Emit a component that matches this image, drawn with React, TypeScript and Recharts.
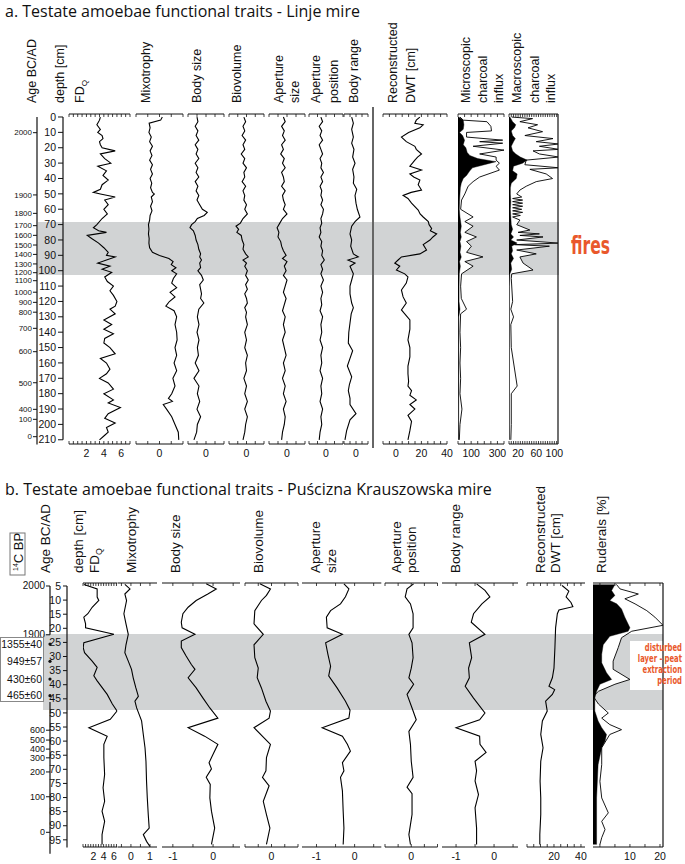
import React from 'react';
import { ComposedChart, Line, Area, XAxis, YAxis, ReferenceArea, ReferenceLine } from 'recharts';

type Pt = [number, number];
type Panel = { d0: number; d1: number; top: number; bottom: number };

const FONT = '"Liberation Sans", Arial, Helvetica, sans-serif';
const TITLE_FONT = '"Open Sans", "Noto Sans", sans-serif';
const NARROW = '"Liberation Sans Narrow", "DejaVu Sans Condensed", "Liberation Sans", sans-serif';
const ORANGE = '#e9582b';
const BAND = '#d1d3d4';

// ================= Panel a: Linje mire =================
const linjeTitle = 'a. Testate amoebae functional traits - Linje mire';
const linjeDepthTicks = [0, 10, 20, 30, 40, 50, 60, 70, 80, 90, 100, 110, 120, 130, 140, 150, 160, 170, 180, 190, 200, 210];
const linjeAgeLabels = ['2000', '1900', '1800', '1700', '1600', '1500', '1400', '1300', '1200', '1100', '1000', '900', '800', '700', '600', '500', '400', '100', '0'];
const linjeAgeDepths = [10.2, 50.7, 62.7, 70.7, 77, 83.3, 89.4, 95.6, 101.3, 106.5, 114, 120.6, 127, 137.5, 152.7, 172.9, 190.2, 196.7, 208];
const linjeBand: [number, number] = [68.3, 102.7];
const linjeNote = 'fires';

const linjeFdq: Pt[] = [[0,3.6],[2,3.5],[5,3.2],[8,3.6],[10,3.3],[12,3.8],[14,3.9],[16,3.5],[18,3.6],[20,3.8],[22,5.3],[24,3.6],[27,4.1],[30,4.8],[32,3.3],[35,4.3],[38,3.9],[41,4.5],[44,3.8],[47,3.6],[49,2.8],[50,3.6],[52,5.3],[54,4.1],[57,4.5],[60,4.0],[63,4.4],[66,3.8],[70,3.2],[72,2.8],[74,3.4],[75,4.3],[76,3.2],[77,2.1],[79,2.6],[82,3.4],[85,4.0],[88,4.5],[90,4.3],[91,5.3],[93,4.3],[95,3.3],[97,4.7],[99,3.8],[101,4.9],[104,4.1],[107,4.4],[110,5.1],[113,4.7],[116,5.1],[120,5.5],[123,5.3],[125,4.7],[128,5.3],[132,4.0],[135,4.9],[138,4.0],[141,5.1],[144,4.1],[147,4.0],[150,4.7],[154,5.3],[157,3.6],[160,4.3],[164,4.7],[167,4.3],[170,3.5],[173,4.5],[177,5.1],[180,4.0],[184,5.1],[186,4.5],[189,5.9],[193,4.5],[196,4.1],[199,5.3],[202,4.3],[205,4.5],[207,4.1],[210,3.5]];
const linjeMixo: Pt[] = [[0,0.12],[2,0.05],[4,-0.44],[7,-0.4],[10,-0.45],[13,-0.35],[16,-0.42],[19,-0.3],[22,-0.4],[25,-0.32],[28,-0.42],[31,-0.3],[34,-0.38],[37,-0.3],[40,-0.4],[43,-0.33],[46,-0.38],[49,-0.3],[50,-0.22],[52,-0.35],[55,-0.3],[58,-0.38],[61,-0.32],[64,-0.4],[67,-0.42],[70,-0.47],[73,-0.45],[76,-0.47],[79,-0.44],[82,-0.45],[85,-0.42],[88,-0.3],[90,0.0],[92,0.4],[94,0.58],[96,0.5],[98,0.7],[100,0.52],[102,0.73],[105,0.59],[108,0.52],[111,0.73],[114,0.45],[117,0.66],[120,0.42],[123,0.27],[126,0.62],[130,0.73],[135,0.66],[140,0.73],[145,0.75],[150,0.66],[155,0.73],[160,0.62],[165,0.73],[170,0.57],[175,0.66],[180,0.52],[183,0.38],[185,0.55],[187,0.16],[190,0.3],[195,0.52],[200,0.66],[205,0.8],[210,0.82]];
const linjeBody: Pt[] = [[0,-0.5],[3,-0.45],[6,-0.6],[9,-0.45],[12,-0.55],[15,-0.4],[18,-0.6],[21,-0.45],[24,-0.55],[27,-0.4],[30,-0.6],[33,-0.45],[36,-0.55],[39,-0.4],[42,-0.6],[45,-0.45],[48,-0.55],[51,-0.4],[54,-0.5],[57,-0.35],[60,-0.2],[62,0.07],[64,-0.1],[66,-0.48],[68,-0.6],[70,-0.8],[72,-0.89],[74,-0.7],[77,-0.6],[80,-0.55],[83,-0.45],[86,-0.4],[89,-0.3],[91,-0.35],[93,-0.25],[95,-0.35],[98,-0.3],[100,-0.45],[103,-0.25],[106,-0.15],[109,-0.35],[112,-0.3],[115,-0.25],[118,-0.3],[121,-0.12],[125,-0.4],[130,-0.48],[135,-0.39],[140,-0.5],[145,-0.39],[150,-0.48],[155,-0.42],[160,-0.6],[165,-0.39],[170,-0.67],[175,-0.39],[180,-0.48],[185,-0.35],[190,-0.5],[195,-0.3],[200,-0.48],[205,-0.52],[210,-0.67]];
const linjeBiov: Pt[] = [[0,-0.15],[3,-0.05],[6,-0.2],[9,-0.1],[12,-0.25],[15,-0.05],[18,-0.2],[21,-0.1],[24,-0.3],[27,-0.1],[30,-0.2],[33,0],[36,-0.15],[39,-0.1],[42,-0.25],[45,-0.05],[48,-0.2],[51,-0.1],[54,-0.15],[57,0.0],[60,-0.1],[63,0.05],[66,-0.2],[69,-0.35],[71,-0.6],[73,-0.45],[75,-0.55],[77,-0.3],[80,-0.25],[83,-0.15],[86,-0.2],[89,-0.05],[91,0.1],[93,-0.2],[95,0.0],[97,-0.1],[100,0.05],[103,-0.05],[106,0.1],[109,-0.05],[112,0.05],[115,-0.1],[118,0.0],[121,0.05],[124,-0.1],[127,0.0],[130,-0.05],[135,0.05],[140,-0.1],[145,0],[150,-0.1],[155,0.05],[160,-0.05],[165,0],[170,-0.15],[175,0],[180,-0.1],[185,0.05],[190,-0.1],[195,0.05],[200,-0.05],[205,-0.1],[210,-0.2]];
const linjeApSize: Pt[] = [[0,-0.2],[3,-0.1],[6,-0.3],[9,-0.15],[12,-0.25],[15,-0.1],[18,-0.3],[21,-0.2],[24,-0.35],[27,-0.15],[30,-0.25],[33,-0.1],[36,-0.3],[39,-0.2],[42,-0.15],[45,-0.3],[48,-0.1],[51,-0.25],[54,-0.2],[57,-0.1],[60,-0.2],[63,0.0],[66,-0.25],[69,-0.4],[72,-0.55],[75,-0.45],[78,-0.5],[81,-0.35],[84,-0.3],[87,-0.2],[90,-0.05],[92,-0.25],[94,0.0],[97,-0.15],[100,-0.05],[103,-0.2],[106,0.0],[110,-0.1],[114,-0.2],[118,-0.05],[122,-0.15],[126,-0.25],[130,-0.1],[135,-0.2],[140,-0.1],[145,-0.25],[150,-0.15],[155,-0.05],[160,-0.2],[165,-0.1],[170,-0.25],[175,-0.1],[180,-0.2],[185,-0.05],[190,-0.2],[195,-0.1],[200,-0.15],[205,-0.25],[210,-0.3]];
const linjeApPos: Pt[] = [[0,-0.3],[3,-0.2],[6,-0.4],[9,-0.25],[12,-0.35],[15,-0.2],[18,-0.4],[21,-0.3],[24,-0.2],[27,-0.35],[30,-0.25],[33,-0.3],[36,-0.15],[39,-0.3],[42,-0.2],[45,-0.35],[48,-0.25],[51,-0.3],[54,-0.2],[57,-0.3],[60,-0.15],[63,-0.2],[66,-0.3],[69,-0.25],[72,-0.35],[75,-0.3],[78,-0.4],[81,-0.25],[84,-0.3],[87,-0.2],[90,-0.25],[93,-0.1],[96,-0.3],[99,-0.2],[102,-0.3],[106,-0.15],[110,-0.3],[114,-0.2],[118,-0.3],[122,-0.25],[126,-0.35],[130,-0.2],[135,-0.3],[140,-0.25],[145,-0.35],[150,-0.2],[155,-0.3],[160,-0.25],[165,-0.35],[170,-0.2],[175,-0.3],[180,-0.25],[185,-0.35],[190,-0.2],[195,-0.3],[200,-0.25],[205,-0.35],[210,-0.4]];
const linjeRange: Pt[] = [[0,-0.36],[4,-0.22],[8,-0.36],[13,-0.22],[17,-0.36],[21,-0.17],[26,-0.28],[30,-0.08],[34,-0.28],[39,-0.17],[43,-0.22],[47,0.06],[51,-0.08],[56,0],[60,0.11],[65,0.33],[68,-0.08],[71,-0.36],[76,-0.5],[80,-0.36],[84,-0.44],[89,-0.22],[91,0.19],[93,-0.67],[95,-0.08],[97,-0.5],[102,-0.22],[106,-0.36],[110,-0.5],[115,-0.5],[121,-0.36],[124,-0.22],[128,-0.4],[134,-0.5],[140,-0.6],[147,-0.64],[152,-0.28],[157,-0.5],[162,-0.72],[169,-0.36],[174,-0.55],[178,-0.64],[183,-0.5],[187,-0.5],[193,0.0],[197,-0.5],[204,-0.78],[210,-0.92]];
const linjeDwt: Pt[] = [[0,18.8],[2,16],[4,14.9],[5,21.4],[7,18.8],[10,10],[13,4.4],[16,8.2],[19,14.9],[21,16],[24,20.1],[26,17],[28,14.9],[30,13],[32,11],[34.5,20.1],[37,11],[39,14],[41,18.8],[44,17.5],[47.5,20.1],[49,12],[51,5.7],[53,9.5],[56,12.3],[60.5,17.5],[63,19],[65,21.4],[68,25.4],[70,26],[72.5,28],[74,27],[76,31.9],[78,29],[80,26.7],[83,21.4],[86.5,24],[89,18.8],[91,4.4],[93,1.8],[95,-0.8],[97,3.1],[99.5,0.5],[102,7],[104,9.5],[108,8.2],[112.5,4.4],[117,5.7],[121,8.2],[125.5,4.4],[128,7],[132,11],[138,11],[145,9.5],[150,11],[156,11],[162,9.5],[167,9.5],[172,10],[175,9.5],[178,12.3],[181,11],[184,16],[187,11],[190,14.9],[194,9.5],[198,12.3],[204,11],[210,9.5]];
const linjeMicroFill: Pt[] = [[0,5],[2,40],[5,45],[8,40],[10,12],[12,35],[15,50],[18,40],[20,60],[23,70],[25,90],[27,150],[29,290],[31,200],[33,110],[35,90],[38,65],[40,40],[43,25],[46,18],[50,15],[55,12],[60,10],[65,15],[68,20],[71,25],[75,18],[78,25],[81,15],[84,22],[88,15],[91,25],[94,12],[97,18],[102,10],[110,8],[120,8],[125,15],[130,6],[150,6],[175,6],[200,5],[210,5]];
const linjeMicroLine: Pt[] = [[0,15],[2,40],[3,220],[6,250],[9,255],[10,65],[13,65],[15,340],[16,165],[17,340],[19,115],[21.5,350],[24,165],[26,290],[28,290],[30,315],[32,290],[34.5,315],[39,165],[42,115],[45,77],[50,52],[54,27],[60,20],[65,115],[68,52],[71,115],[75,52],[78,140],[81,65],[84,102],[88,65],[91,190],[94,52],[97,115],[102,27],[110,20],[118,25],[125,65],[128,20],[140,15],[150,20],[160,15],[170,20],[180,15],[190,30],[200,15],[210,10]];
const linjeMacroFill: Pt[] = [[0,2],[3,8],[5,15],[7,12],[9,5],[12,8],[14,14],[16,10],[19,5],[22,8],[24,15],[26,25],[28,40],[30,30],[32,10],[35,8],[37,18],[40,16],[43,5],[46,3],[50,3],[55,4],[60,3],[65,4],[70,5],[73,8],[76,4],[78,10],[80,4],[82,18],[84,6],[87,8],[89,5],[92,10],[95,4],[99,6],[102,2],[110,1],[150,1],[210,1]];
const linjeMacroLine: Pt[] = [[0,6],[1,52],[3,24],[5,63],[7,42],[9.5,74],[12,35],[14,97],[16,60],[17.5,110],[19,67],[21,110],[22,53],[24,67],[26,110],[28,38],[31,35],[33,110],[34,46],[37,82],[40,96],[42,60],[45,38],[47.5,24],[50,17],[52,28],[53,8],[54,30],[55,8],[56,30],[57,8],[58,30],[59,8],[60,28],[61,8],[62,30],[63,8],[64,25],[65,8],[67,24],[70,17],[73.5,46],[75,20],[76,67],[77,24],[78,75],[80,17],[82,110],[83,12],[84,89],[86.5,17],[89,60],[91,24],[95,31],[99.5,53],[102,6],[105,5],[120,8],[125,4],[130,10],[135,4],[150,5],[175,18],[180,5],[200,5],[210,4]];

// ================= Panel b: Puścizna Krauszowska mire =================
const pusTitle = 'b. Testate amoebae functional traits - Puścizna Krauszowska mire';
const pusDepthTicks = [5, 10, 15, 20, 25, 30, 35, 40, 45, 50, 55, 60, 65, 70, 75, 80, 85, 90, 95];
const pusAgeTopLabels = ['2000', '1900'];
const pusAgeTopDepths = [5, 22.3];
const pusAgeLowLabels = ['600', '500', '400', '300', '200', '100', '0'];
const pusAgeLowDepths = [56.4, 59.9, 63.1, 66.2, 71.2, 80, 92.6];
const pusDateLabels = ['1355±40', '949±57', '430±60', '465±60'];
const pusDateDepths = [25.7, 31.8, 38.1, 44];
const pusBand: [number, number] = [22.2, 49.1];
const pusNote = ['disturbed', 'layer - peat', 'extraction', 'period'];

const pusFdq: Pt[] = [[4.6,0.16],[6.2,2.75],[9.1,2.75],[10.3,3.07],[12.7,1.78],[15,0.94],[16.2,0.16],[18.6,0.5],[20,0.5],[22.3,6.0],[25.3,0.16],[27,0.04],[28.8,0.3],[31.8,1.78],[34,2.75],[37,2.1],[38.8,2.75],[43.6,4.7],[47,5.7],[49.5,6.6],[52.4,5.3],[55.4,1.14],[58.4,4.7],[61.3,4.05],[66,4.05],[72,4.2],[76.7,3.9],[81.5,4.2],[85,3.7],[88.6,4.2],[93.3,3.7],[96.8,3.7]];
const pusMixo: Pt[] = [[4.6,-0.32],[6.2,-0.05],[8,-0.32],[10.3,-0.23],[15,-0.37],[18.6,-0.26],[22.3,-0.14],[26,-0.26],[28.8,-0.32],[31.8,-0.14],[34.7,0.03],[37.7,0.12],[41.3,0.26],[44.3,0.39],[46,0.21],[48.4,0.3],[53,0.56],[57.8,0.65],[62.5,0.74],[67.3,0.79],[74.4,0.82],[80.3,0.86],[86.2,0.91],[91,0.96],[93.3,0.65],[95.7,0.82],[97.5,1.0]];
const pusBody: Pt[] = [[4.4,-0.17],[6.2,0.08],[8,-0.13],[10.3,-0.42],[12.7,-0.62],[15,-0.75],[18,-0.79],[20,-0.77],[22.3,-0.45],[24.7,-0.79],[27,-0.79],[30,-0.67],[33,-0.54],[34.7,-0.45],[37.7,-0.62],[41.3,-0.42],[44.9,-0.25],[48.4,-0.08],[52,0.12],[55.4,-0.62],[58.4,-0.21],[61.3,0.12],[64.8,0.0],[67.8,-0.1],[70,-0.04],[73,-0.17],[75.5,-0.07],[80.3,-0.08],[85,-0.04],[91,0.04],[96.8,-0.04]];
const pusBiov: Pt[] = [[4.4,-0.44],[6.2,-0.04],[8.5,-0.19],[10.3,-0.38],[13.9,-0.63],[18.6,-0.66],[22.3,-0.31],[26,-0.66],[30.6,-0.63],[34.3,-0.5],[37.7,-0.54],[41.3,-0.38],[46,-0.21],[49.5,-0.04],[52,-0.09],[55.4,-0.66],[61.3,-0.04],[66,-0.19],[70.7,-0.21],[73,-0.34],[76,-0.09],[81.5,-0.31],[86.2,-0.19],[91,-0.06],[96.8,-0.19]];
const pusApSize: Pt[] = [[4.4,-0.28],[6.2,-0.15],[9,-0.24],[11.5,-0.37],[13.9,-0.63],[16.2,-0.74],[20,-0.72],[22.3,-0.32],[25.3,-0.76],[29.4,-0.7],[33.6,-0.63],[37,-0.68],[41.3,-0.46],[46,-0.24],[49.2,-0.12],[52,-0.15],[55.4,-0.85],[58.4,-0.32],[61.3,-0.19],[63.7,-0.11],[67.8,-0.32],[70.7,-0.28],[73,-0.37],[77.8,-0.32],[85,-0.3],[91,-0.28],[96.8,-0.3]];
const pusApPos: Pt[] = [[4.4,0.09],[6.2,-0.16],[9,-0.23],[11.5,-0.03],[15,0.07],[20,0.07],[22.3,-0.09],[25.3,0.03],[30.6,0.07],[34.3,0.0],[37.7,-0.09],[40,0.09],[43.6,-0.16],[48.4,0.03],[52.6,0.19],[56.7,-0.09],[61.3,-0.03],[67.3,0.0],[73,0.07],[76.5,-0.16],[78.8,0.03],[86.2,0.03],[93.3,-0.09],[96.8,-0.03]];
const pusRange: Pt[] = [[4.4,-0.46],[6.7,-0.24],[9,-0.11],[11.5,-0.32],[15,-0.54],[18,-0.6],[22.3,-0.24],[25.3,-0.65],[30.6,-0.59],[34.3,-0.67],[37.7,-0.65],[40.7,-0.76],[44.9,-0.54],[50.2,-0.24],[52.6,-0.38],[55.4,-1.0],[58.4,-0.38],[61.3,-0.37],[64.2,-0.21],[67.3,-0.5],[70.7,-0.46],[74.3,-0.5],[79.1,-0.41],[83.8,-0.5],[91,-0.46],[96.8,-0.46]];
const pusDwt: Pt[] = [[5,26],[7,31],[9,29],[11,32.6],[12.5,34],[13.7,23.7],[15,22.5],[20,21.2],[27,20.7],[34.3,20],[37.7,18.8],[40.7,16.3],[41.9,20.5],[43.6,18.8],[46,13.8],[49.5,15],[53,11.4],[57.8,10.2],[62.5,11.9],[67.3,10.2],[74.4,9.7],[80.3,10.2],[86.2,10.2],[93.3,9.5],[96.8,9.5]];
const pusRudFill: Pt[] = [[4.6,5],[6.8,3.9],[8.5,5],[10.3,3.3],[11.5,5.6],[13.3,7.2],[16.2,8.3],[20,10],[21.2,9.4],[23,3.3],[26,1.1],[29.4,0.6],[32.4,0.6],[35.9,2.2],[38.3,3.9],[40,0],[42.5,-1.1],[44.9,-1.7],[49.5,-1.7],[53,-0.6],[55.4,0.6],[57.8,2.2],[60.2,1.7],[62.5,0.6],[68.5,-0.6],[80.3,-1.1],[92,-1.1],[96.8,-1.1]];
const pusRudLine: Pt[] = [[4.6,5.5],[6.2,6.7],[8,12.8],[9.7,8.3],[11.5,11.7],[13.9,15.6],[16.2,18.3],[19.1,21],[21.2,10.6],[23.5,7.2],[27,6.1],[31.8,4.4],[34.7,4.4],[38.3,10],[40,5],[42.5,-0.5],[44.3,-2.2],[47,-0.5],[50.2,2.8],[52,0.6],[54.3,3.3],[56.1,7.2],[57.8,3.3],[62.5,0.6],[68.5,0.6],[74.4,0],[80.3,0.6],[85.6,2.8],[88.6,0.6],[91.5,1.7],[94.4,0.6],[96.8,0]];

// ================= layout =================
const PA: Panel = { d0: -2, d1: 212.7, top: 114, bottom: 444 };
const PB: Panel = { d0: 4.1, d1: 97.7, top: 583, bottom: 847 };

function yOf(p: Panel, d: number) {
  return p.top + ((d - p.d0) * (p.bottom - p.top)) / (p.d1 - p.d0);
}
function steps(a: number, b: number, s: number) {
  const out: number[] = [];
  for (let v = a; v <= b + 1e-9; v += s) out.push(Math.round(v * 1000) / 1000);
  return out;
}

type Series = { pts: Pt[]; kind: 'line' | 'outline' | 'fill' };
type Col = { key: string; x0: number; x1: number; domain: [number, number]; ticks: number[]; labels: number[]; series: Series[]; rightBorder?: boolean };

const colsA: Col[] = [
  { key: 'a-fdq', x0: 69, x1: 130, domain: [0, 7], ticks: steps(0, 7, 0.5), labels: [2, 4, 6], series: [{ pts: linjeFdq, kind: 'line' }] },
  { key: 'a-mixo', x0: 136, x1: 183, domain: [-1, 1], ticks: steps(-1, 1, 0.5), labels: [0], series: [{ pts: linjeMixo, kind: 'line' }] },
  { key: 'a-body', x0: 188, x1: 224, domain: [-1, 1], ticks: steps(-1, 1, 0.5), labels: [0], series: [{ pts: linjeBody, kind: 'line' }] },
  { key: 'a-biov', x0: 229, x1: 264, domain: [-1, 1], ticks: steps(-1, 1, 0.5), labels: [0], series: [{ pts: linjeBiov, kind: 'line' }] },
  { key: 'a-aps', x0: 269, x1: 305, domain: [-1, 1], ticks: steps(-1, 1, 0.5), labels: [0], series: [{ pts: linjeApSize, kind: 'line' }] },
  { key: 'a-app', x0: 309, x1: 343, domain: [-1, 1], ticks: steps(-1, 1, 0.5), labels: [0], series: [{ pts: linjeApPos, kind: 'line' }] },
  { key: 'a-range', x0: 344, x1: 368, domain: [-1, 1], ticks: steps(-1, 1, 0.5), labels: [0], series: [{ pts: linjeRange, kind: 'line' }] },
  { key: 'a-dwt', x0: 383, x1: 447, domain: [-10, 40], ticks: steps(-10, 40, 5), labels: [0, 20, 40], series: [{ pts: linjeDwt, kind: 'line' }] },
  { key: 'a-micro', x0: 458, x1: 504, domain: [0, 350], ticks: steps(0, 350, 50), labels: [100, 300], series: [{ pts: linjeMicroLine, kind: 'outline' }, { pts: linjeMicroFill, kind: 'fill' }] },
  { key: 'a-macro', x0: 509, x1: 558, domain: [0, 108], ticks: steps(0, 105, 5), labels: [20, 60, 100], series: [{ pts: linjeMacroLine, kind: 'outline' }, { pts: linjeMacroFill, kind: 'fill' }], rightBorder: true },
];

const colsB: Col[] = [
  { key: 'b-fdq', x0: 82.5, x1: 117, domain: [0, 6.7], ticks: steps(0, 6.5, 0.5), labels: [2, 4, 6], series: [{ pts: pusFdq, kind: 'line' }] },
  { key: 'b-mixo', x0: 118, x1: 157, domain: [-0.68, 1.37], ticks: steps(-0.5, 1, 0.5), labels: [0, 1], series: [{ pts: pusMixo, kind: 'line' }] },
  { key: 'b-body', x0: 162, x1: 240, domain: [-1.27, 0.67], ticks: steps(-1, 0.5, 0.5), labels: [-1, 0], series: [{ pts: pusBody, kind: 'line' }] },
  { key: 'b-biov', x0: 245, x1: 298, domain: [-1, 1], ticks: steps(-1, 1, 0.5), labels: [0], series: [{ pts: pusBiov, kind: 'line' }] },
  { key: 'b-aps', x0: 301.7, x1: 381, domain: [-1.38, 0.7], ticks: steps(-1, 0.5, 0.5), labels: [-1, 0], series: [{ pts: pusApSize, kind: 'line' }] },
  { key: 'b-app', x0: 385, x1: 437.5, domain: [-1, 1], ticks: steps(-1, 1, 0.5), labels: [0], series: [{ pts: pusApPos, kind: 'line' }] },
  { key: 'b-range', x0: 442, x1: 518, domain: [-1.37, 0.63], ticks: steps(-1, 0.5, 0.5), labels: [-1, 0], series: [{ pts: pusRange, kind: 'line' }] },
  { key: 'b-dwt', x0: 527, x1: 585, domain: [0, 43], ticks: steps(0, 40, 5), labels: [20, 40], series: [{ pts: pusDwt, kind: 'line' }] },
  { key: 'b-rud', x0: 593, x1: 663, domain: [-2.3, 21], ticks: steps(0, 20, 5), labels: [10, 20], series: [{ pts: pusRudLine, kind: 'outline' }, { pts: pusRudFill, kind: 'fill' }], rightBorder: true },
];

type Header = { text: string; x: number; sub?: string };
const headersA: Header[] = [
  { text: 'Age BC/AD', x: 36 }, { text: 'depth [cm]', x: 64 }, { text: 'FD', sub: 'Q', x: 84 },
  { text: 'Mixotrophy', x: 150 }, { text: 'Body size', x: 201 }, { text: 'Biovolume', x: 241 },
  { text: 'Aperture', x: 283 }, { text: 'size', x: 299 }, { text: 'Aperture', x: 320 }, { text: 'position', x: 338 },
  { text: 'Body range', x: 358 }, { text: 'Reconstructed', x: 397 }, { text: 'DWT [cm]', x: 415 },
  { text: 'Microscopic', x: 470 }, { text: 'charcoal', x: 487 }, { text: 'influx', x: 503 },
  { text: 'Macroscopic', x: 521 }, { text: 'charcoal', x: 539 }, { text: 'influx', x: 555 },
];
const headersB: Header[] = [
  { text: 'Age BC/AD', x: 50 }, { text: 'depth [cm]', x: 83 }, { text: 'FD', sub: 'Q', x: 99 },
  { text: 'Mixotrophy', x: 136 }, { text: 'Body size', x: 180 }, { text: 'Biovolume', x: 263 },
  { text: 'Aperture', x: 320 }, { text: 'size', x: 336 }, { text: 'Aperture', x: 401 }, { text: 'position', x: 416 },
  { text: 'Body range', x: 460 }, { text: 'Reconstructed', x: 545 }, { text: 'DWT [cm]', x: 560 },
  { text: 'Ruderals [%]', x: 606 },
];

const rows = (pts: Pt[]) => pts.map(([d, v]) => ({ d, v }));

function TopTick(props: any) {
  const { x, y } = props;
  return <line x1={x} x2={x} y1={y} y2={y + 3} stroke="#111" strokeWidth={0.8} />;
}

function makeBottomTick(labels: number[]) {
  return (props: any) => {
    const { x, y, payload } = props;
    const v = payload.value as number;
    const show = labels.some((l) => Math.abs(l - v) < 1e-6);
    return (
      <g>
        <line x1={x} x2={x} y1={y} y2={y - 3} stroke="#111" strokeWidth={0.8} />
        {show && (
          <text x={x} y={y + 13} textAnchor="middle" fontSize={10.5} fontFamily={FONT} fill="#111">
            {String(v)}
          </text>
        )}
      </g>
    );
  };
}

function Column({ panel, col }: { panel: Panel; col: Col }) {
  const padL = 12, padR = 12, padT = 3, padB = 22;
  const w = col.x1 - col.x0 + padL + padR;
  const h = panel.bottom - panel.top + padT + padB;
  const BottomTick = makeBottomTick(col.labels);
  return (
    <div style={{ position: 'absolute', left: col.x0 - padL, top: panel.top - padT }}>
      <ComposedChart width={w} height={h} layout="vertical" margin={{ top: padT - 1, right: padR, bottom: padB - 1, left: padL }}>
        <YAxis yAxisId="d" type="number" dataKey="d" domain={[panel.d0, panel.d1]} allowDataOverflow width={0} tick={false} tickLine={false} axisLine={{ stroke: '#111', strokeWidth: 1.2 }} />
        <XAxis xAxisId="t" orientation="top" type="number" domain={col.domain} allowDataOverflow ticks={col.ticks} interval={0} height={1} tickSize={0} tickMargin={0} tickLine={false} tick={(p: any) => <TopTick {...p} />} axisLine={{ stroke: '#111', strokeWidth: 1 }} />
        <XAxis xAxisId="b" orientation="bottom" type="number" domain={col.domain} allowDataOverflow ticks={col.ticks} interval={0} height={1} tickSize={0} tickMargin={0} tickLine={false} tick={(p: any) => <BottomTick {...p} />} axisLine={{ stroke: '#111', strokeWidth: 1 }} />
        {col.series.map((s, i) =>
          s.kind === 'line' ? (
            <Line key={i} xAxisId="b" yAxisId="d" data={rows(s.pts)} dataKey="v" stroke="#000" strokeWidth={1.1} dot={false} isAnimationActive={false} />
          ) : (
            <Area key={i} xAxisId="b" yAxisId="d" data={rows(s.pts)} dataKey="v" baseValue="dataMin" type="linear"
              stroke="#000" strokeWidth={s.kind === 'outline' ? 0.9 : 0.4} fill={s.kind === 'outline' ? '#ffffff' : '#000000'} fillOpacity={1} dot={false} activeDot={false} isAnimationActive={false} />
          )
        )}
        {col.rightBorder && <ReferenceLine xAxisId="b" yAxisId="d" x={col.domain[1]} stroke="#111" strokeWidth={1.2} />}
      </ComposedChart>
    </div>
  );
}

function AxisStrip({ panel, d0, d1, xLine, ticks, labels, tickSize, tickMargin, showLine, dots, fontSize }: {
  panel: Panel; d0: number; d1: number; xLine: number; ticks: number[]; labels?: string[]; tickSize: number; tickMargin: number; showLine: boolean; dots?: boolean; fontSize: number;
}) {
  const W = 60, padT = 8, padB = 8;
  const top = yOf(panel, d0);
  const bottom = yOf(panel, d1);
  const h = bottom - top + padT + padB;
  const tick = (p: any) => {
    const { x, y, payload, index } = p;
    const label = labels ? labels[index] : String(payload.value);
    if (dots) {
      return (
        <g>
          <circle cx={x} cy={y} r={1.6} fill="#111" />
          <text x={x - 8} y={y} dy="0.35em" textAnchor="end" fontSize={fontSize} fontFamily={FONT} fill="#111">{label}</text>
        </g>
      );
    }
    return (
      <text x={x} y={y} dy="0.35em" textAnchor="end" fontSize={fontSize} fontFamily={FONT} fill="#111">{label}</text>
    );
  };
  return (
    <div style={{ position: 'absolute', left: xLine - W, top: top - padT }}>
      <ComposedChart width={W + 2} height={h} layout="vertical" margin={{ top: padT, bottom: padB, left: 0, right: 1 }}>
        <XAxis xAxisId="x" type="number" domain={[0, 1]} hide />
        <YAxis yAxisId="y" type="number" dataKey="d" domain={[d0, d1]} allowDataOverflow width={W} ticks={ticks} interval={0}
          tickSize={tickSize} tickMargin={tickMargin} tickLine={tickSize > 0 ? { stroke: '#111', strokeWidth: 1 } : false}
          axisLine={showLine ? { stroke: '#111', strokeWidth: 1.2 } : false} tick={tick} />
        <Line xAxisId="x" yAxisId="y" data={[{ d: d0, v: 0 }, { d: d1, v: 0 }]} dataKey="v" stroke="none" dot={false} isAnimationActive={false} />
      </ComposedChart>
    </div>
  );
}

function Band({ panel, x0, x1, range }: { panel: Panel; x0: number; x1: number; range: [number, number] }) {
  const h = panel.bottom - panel.top;
  return (
    <div style={{ position: 'absolute', left: x0, top: panel.top }}>
      <ComposedChart width={x1 - x0} height={h} layout="vertical" margin={{ top: 0, right: 0, bottom: 0, left: 0 }}>
        <XAxis xAxisId="x" type="number" domain={[0, 1]} hide />
        <YAxis yAxisId="y" type="number" dataKey="d" domain={[panel.d0, panel.d1]} allowDataOverflow hide />
        <ReferenceArea xAxisId="x" yAxisId="y" x1={0} x2={1} y1={range[0]} y2={range[1]} fill={BAND} fillOpacity={1} stroke="none" />
        <Line xAxisId="x" yAxisId="y" data={[{ d: panel.d0, v: 0 }, { d: panel.d1, v: 0 }]} dataKey="v" stroke="none" dot={false} isAnimationActive={false} />
      </ComposedChart>
    </div>
  );
}

function HeaderText({ h, y, size }: { h: Header; y: number; size: number }) {
  return (
    <text transform={`translate(${h.x},${y}) rotate(-90)`} fontSize={size} fontFamily={FONT} fill="#111">
      {h.text}
      {h.sub && <tspan fontSize={size * 0.65} dy={3}>{h.sub}</tspan>}
    </text>
  );
}

export default function App() {
  return (
    <div style={{ position: 'absolute', left: 0, top: 0, width: 685, height: 864, background: '#fff', overflow: 'hidden' }}>
      {/* gray bands */}
      <Band panel={PA} x0={38} x1={559} range={linjeBand} />
      <Band panel={PB} x0={43} x1={663} range={pusBand} />

      {/* panel a axes */}
      <AxisStrip panel={PA} d0={0} d1={213} xLine={37} ticks={linjeAgeDepths} labels={linjeAgeLabels} tickSize={4} tickMargin={1} showLine fontSize={8} />
      <AxisStrip panel={PA} d0={0} d1={210} xLine={63} ticks={linjeDepthTicks} tickSize={5} tickMargin={2} showLine fontSize={10.5} />
      {colsA.map((c) => <Column key={c.key} panel={PA} col={c} />)}
      <div style={{ position: 'absolute', left: 372, top: 107, width: 2, height: 341, background: '#666' }} />

      {/* panel b axes */}
      <AxisStrip panel={PB} d0={5} d1={22.3} xLine={50} ticks={pusAgeTopDepths} labels={pusAgeTopLabels} tickSize={4} tickMargin={1} showLine fontSize={10} />
      <AxisStrip panel={PB} d0={46.4} d1={100.2} xLine={50} ticks={pusAgeLowDepths} labels={pusAgeLowLabels} tickSize={4} tickMargin={1} showLine fontSize={9} />
      <AxisStrip panel={PB} d0={5} d1={97.7} xLine={67} ticks={pusDepthTicks} tickSize={4} tickMargin={2} showLine fontSize={10.5} />
      <div style={{ position: 'absolute', left: 0, top: 637, width: 42, height: 63, border: '1px solid #888', background: '#fff' }} />
      <AxisStrip panel={PB} d0={20} d1={50} xLine={50} ticks={pusDateDepths} labels={pusDateLabels} tickSize={0} tickMargin={0} showLine={false} dots fontSize={10.5} />
      <div style={{ position: 'absolute', left: 630, top: 641, width: 55, height: 49, background: '#fff' }} />
      {colsB.map((c) => <Column key={c.key} panel={PB} col={c} />)}

      {/* texts */}
      <svg width={685} height={864} style={{ position: 'absolute', left: 0, top: 0, pointerEvents: 'none' }}>
        <text x={5} y={17} fontSize={16} fontFamily={TITLE_FONT} fill="#111">{linjeTitle}</text>
        <text x={5} y={495} fontSize={16} fontFamily={TITLE_FONT} fill="#111">{pusTitle}</text>
        {headersA.map((h, i) => <HeaderText key={'ha' + i} h={h} y={103} size={12.5} />)}
        {headersB.map((h, i) => <HeaderText key={'hb' + i} h={h} y={573} size={13.5} />)}
        <rect x={10} y={533} width={15} height={42} fill="none" stroke="#777" strokeWidth={1} />
        <text transform="translate(23,571) rotate(-90)" fontSize={13} fontFamily={FONT} fill="#111">
          <tspan fontSize={7} dy={-5}>14</tspan>
          <tspan dy={5}>C BP</tspan>
        </text>
        <g transform="translate(571,254) scale(0.72,1)">
          <text x={0} y={0} fontSize={24} fontWeight="bold" fontFamily={NARROW} fill={ORANGE}>{linjeNote}</text>
        </g>
        {pusNote.map((t, i) => (
          <g key={t} transform={`translate(682,${651 + i * 11}) scale(0.76,1)`}>
            <text x={0} y={0} textAnchor="end" fontSize={10} fontWeight="bold" fontFamily={NARROW} fill={ORANGE}>{t}</text>
          </g>
        ))}
      </svg>
    </div>
  );
}
